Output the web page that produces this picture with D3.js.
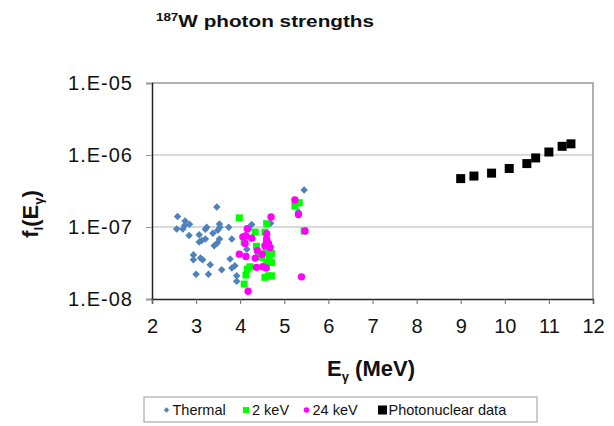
<!DOCTYPE html>
<html>
<head>
<meta charset="utf-8">
<script src="https://cdn.jsdelivr.net/npm/d3@7"></script>
<style>
  body { margin: 0; background: #fff; }
  svg { font-family: "Liberation Sans", Arial, sans-serif; }
</style>
</head>
<body>
<div id="chart"></div>
<script>
// values
const thermalE = [2.56, 2.58, 2.70, 2.75, 2.85, 2.74, 2.84, 3.07, 3.21, 3.24, 3.38, 3.53, 3.54, 3.49, 3.74,
  3.47, 3.07, 3.13, 3.21, 3.53, 3.48, 3.41, 2.94, 2.94, 3.10, 3.15, 3.32, 3.58, 3.00, 3.28,
  3.77, 3.81, 3.88, 3.92, 3.92, 3.81, 4.26, 4.15, 4.69, 5.32, 5.45, 4.20];
const thermalF = [9.4e-8, 1.40e-7, 9.4e-8, 1.21e-7, 1.09e-7, 1.05e-7, 7.6e-8, 7.8e-8, 9.3e-8, 9.9e-8, 8.2e-8, 1.10e-7, 9.9e-8, 9.0e-8, 9.9e-8,
  1.89e-7, 6.2e-8, 6.5e-8, 6.8e-8, 6.8e-8, 6.0e-8, 5.5e-8, 4.1e-8, 3.5e-8, 3.7e-8, 3.5e-8, 3.0e-8, 2.55e-8, 2.2e-8, 2.2e-8,
  3.6e-8, 2.7e-8, 2.9e-8, 2.1e-8, 1.76e-8, 6.8e-8, 1.08e-7, 4.9e-8, 1.13e-7, 1.62e-7, 3.27e-7, 9.3e-8];

const keV2E = [3.98, 4.60, 4.34, 4.56, 4.09, 4.37, 4.60, 4.59, 4.66, 4.71, 4.49, 4.22, 4.16, 4.13, 4.09, 4.56,
  4.64, 4.60, 5.24, 5.34, 5.45, 4.71, 4.41, 4.71];
const keV2F = [1.34e-7, 1.11e-7, 8.5e-8, 8.5e-8, 6.2e-8, 5.4e-8, 5.9e-8, 4.8e-8, 4.0e-8, 3.2e-8, 3.8e-8, 2.8e-8, 2.6e-8, 2.15e-8, 1.61e-8, 2.0e-8,
  2.1e-8, 3.2e-8, 1.95e-7, 2.17e-7, 8.8e-8, 4.3e-8, 3.9e-8, 2.1e-8];

const keV24E = [4.70, 4.16, 4.06, 4.13, 4.11, 4.60, 4.64, 4.56, 4.68, 4.60, 4.60, 4.39, 3.98, 4.13, 4.34, 4.50,
  4.37, 4.51, 4.59, 4.18, 5.24, 5.32, 5.47, 5.39, 4.26];
const keV24F = [1.38e-7, 9.5e-8, 7.3e-8, 7.6e-8, 5.9e-8, 6.2e-8, 5.9e-8, 5.5e-8, 5.2e-8, 6.9e-8, 8.1e-8, 4.7e-8, 4.2e-8, 3.9e-8, 3.7e-8, 4.2e-8,
  2.75e-8, 2.8e-8, 2.7e-8, 1.28e-8, 2.37e-7, 1.49e-7, 8.8e-8, 2.03e-8, 7.0e-8];

const photoE = [9.0, 9.3, 9.7, 10.1, 10.5, 10.7, 11.0, 11.3, 11.5];
const photoF = [4.7e-7, 5.1e-7, 5.6e-7, 6.5e-7, 7.6e-7, 9.1e-7, 1.10e-6, 1.32e-6, 1.43e-6];

const xTicks = [2, 3, 4, 5, 6, 7, 8, 9, 10, 11, 12];
const yTicks = [1e-8, 1e-7, 1e-6, 1e-5];
const legendLabels = ['Thermal', '2 keV', '24 keV', 'Photonuclear data'];

const W = 614, H = 426;
const m = { left: 152, right: 593, top: 83, bottom: 299 };

const svg = d3.select('#chart').append('svg')
  .attr('width', W)
  .attr('height', H);

const x = d3.scaleLinear().domain([2, 12]).range([m.left, m.right]);
const y = d3.scaleLog().domain([1e-8, 1e-5]).range([m.bottom, m.top]);

// gridlines
svg.append('g')
  .selectAll('line')
  .data(yTicks.slice(1, -1))
  .join('line')
  .attr('x1', m.left).attr('x2', m.right)
  .attr('y1', d => y(d)).attr('y2', d => y(d))
  .attr('stroke', '#b4b4b4').attr('stroke-width', 1.2);

// plot frame (top & right)
svg.append('path')
  .attr('d', `M${m.left},${m.top}H${m.right}V${m.bottom}`)
  .attr('fill', 'none')
  .attr('stroke', '#999').attr('stroke-width', 1.5);

const fmtY = d => '1.E-' + String(Math.round(-Math.log10(d))).padStart(2, '0');

const yAxis = svg.append('g')
  .attr('transform', `translate(${m.left},0)`)
  .call(d3.axisLeft(y).tickValues(yTicks).tickFormat(fmtY).tickSize(6).tickPadding(13));
yAxis.select('.domain').attr('stroke', '#222').attr('stroke-width', 1.5);
yAxis.selectAll('.tick line').attr('stroke', '#999');
yAxis.selectAll('text')
  .attr('font-size', 20)
  .attr('letter-spacing', 1)
  .attr('fill', '#111');

const xAxis = svg.append('g')
  .attr('transform', `translate(0,${m.bottom})`)
  .call(d3.axisBottom(x).tickValues(xTicks).tickFormat(d3.format('d')).tickSize(5).tickPadding(0));
xAxis.select('.domain').attr('stroke', '#222').attr('stroke-width', 1.5);
xAxis.selectAll('.tick line').attr('stroke', '#666');
xAxis.selectAll('text')
  .attr('font-size', 20)
  .attr('y', 34)
  .attr('dy', 0)
  .attr('fill', '#111');

// series
const diamond = d3.symbol().type(d3.symbolDiamond2).size(36);

svg.append('g')
  .selectAll('path')
  .data(d3.zip(thermalE, thermalF))
  .join('path')
  .attr('d', diamond)
  .attr('transform', d => `translate(${x(d[0])},${y(d[1])})`)
  .attr('fill', '#4f81bd');

svg.append('g')
  .selectAll('rect')
  .data(d3.zip(keV2E, keV2F))
  .join('rect')
  .attr('x', d => x(d[0]) - 3.5)
  .attr('y', d => y(d[1]) - 3.5)
  .attr('width', 7).attr('height', 7)
  .attr('fill', '#00ff00');

svg.append('g')
  .selectAll('circle')
  .data(d3.zip(keV24E, keV24F))
  .join('circle')
  .attr('cx', d => x(d[0]))
  .attr('cy', d => y(d[1]))
  .attr('r', 3.7)
  .attr('fill', '#ff00ff');

svg.append('g')
  .selectAll('rect')
  .data(d3.zip(photoE, photoF))
  .join('rect')
  .attr('x', d => x(d[0]) - 4.5)
  .attr('y', d => y(d[1]) - 4.5)
  .attr('width', 9).attr('height', 9)
  .attr('fill', '#000');

// title
const title = svg.append('text')
  .attr('transform', 'translate(265,27) scale(1.22,1)')
  .attr('text-anchor', 'middle')
  .attr('font-size', 17)
  .attr('font-weight', 'bold')
  .attr('fill', '#111');
title.append('tspan').attr('font-size', 11).attr('dy', -6).text('187');
title.append('tspan').attr('dy', 6).text('W photon strengths');

// axis titles
const xt = svg.append('text')
  .attr('x', 371).attr('y', 376)
  .attr('text-anchor', 'middle')
  .attr('font-size', 22)
  .attr('font-weight', 'bold')
  .attr('fill', '#111');
xt.append('tspan').text('E');
xt.append('tspan').attr('font-size', 13).attr('dy', 5).text('γ');
xt.append('tspan').attr('dy', -5).text(' (MeV)');

const yt = svg.append('text')
  .attr('transform', 'translate(38,214) rotate(-90)')
  .attr('text-anchor', 'middle')
  .attr('font-size', 22)
  .attr('font-weight', 'bold')
  .attr('fill', '#111');
yt.append('tspan').text('f');
yt.append('tspan').attr('font-size', 13).attr('dy', 5).text('l');
yt.append('tspan').attr('dy', -5).text('(E');
yt.append('tspan').attr('font-size', 13).attr('dy', 5).text('γ');
yt.append('tspan').attr('dy', -5).text(')');

// legend
const legend = svg.append('g');
legend.append('rect')
  .attr('x', 144).attr('y', 397)
  .attr('width', 393).attr('height', 25)
  .attr('fill', '#fff')
  .attr('stroke', '#999').attr('stroke-width', 1);

const legendX = [166.5, 246, 306.5, 382.5];
const ly = 410;
legend.append('path')
  .attr('d', d3.symbol().type(d3.symbolDiamond2).size(18)())
  .attr('transform', `translate(${legendX[0]},${ly})`)
  .attr('fill', '#4f81bd');
legend.append('rect')
  .attr('x', legendX[1] - 3).attr('y', ly - 3)
  .attr('width', 6).attr('height', 6)
  .attr('fill', '#00ff00');
legend.append('circle')
  .attr('cx', legendX[2]).attr('cy', ly)
  .attr('r', 2.8)
  .attr('fill', '#ff00ff');
legend.append('rect')
  .attr('x', legendX[3] - 4.5).attr('y', ly - 4.5)
  .attr('width', 9).attr('height', 9)
  .attr('fill', '#000');

legend.selectAll('text.lbl')
  .data(legendLabels)
  .join('text')
  .attr('class', 'lbl')
  .attr('x', (d, i) => legendX[i] + 6)
  .attr('y', 415)
  .attr('font-size', 14.5)
  .attr('fill', '#111')
  .text(d => d);
</script>
</body>
</html>
